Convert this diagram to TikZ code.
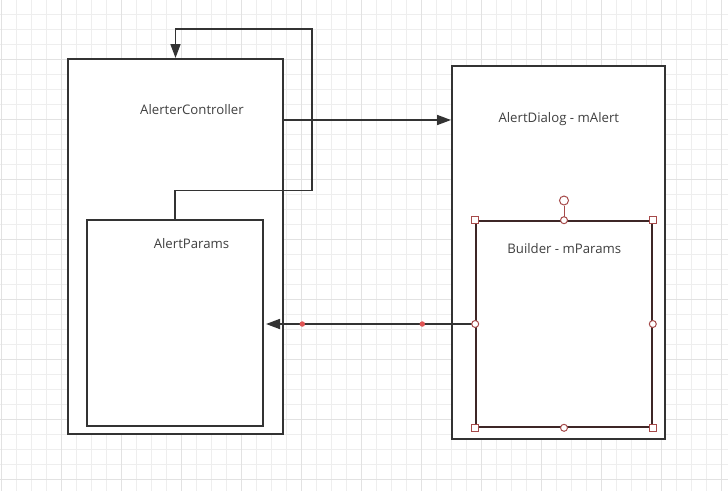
\documentclass[tikz,border=0pt]{standalone}
\usepackage{fontspec}
\setmainfont{Open Sans}
\usetikzlibrary{arrows.meta}
\definecolor{gridminor}{HTML}{EEEEEE}
\definecolor{gridmajor}{HTML}{E2E2E2}
\definecolor{ink}{HTML}{333333}
\definecolor{txt}{HTML}{404040}
\definecolor{selbox}{HTML}{3E2626}
\definecolor{handle}{HTML}{A64A4A}
\definecolor{reddot}{HTML}{E05555}
\tikzset{
  minorline/.style={draw=gridminor, line width=1pt},
  majorline/.style={draw=gridmajor, line width=1pt},
  box/.style={draw=ink, fill=white, line width=2pt, rectangle, inner sep=0pt},
  selectbox/.style={draw=selbox, fill=white, line width=1.6pt, rectangle, inner sep=0pt},
  lbl/.style={text=txt, anchor=base, inner sep=0pt, font=\fontsize{13.2}{16}\selectfont},
  conn/.style={draw=ink, line width=1.7pt, -{Triangle[length=14pt,width=10pt]}},
  sqhandle/.style={draw=handle, fill=white, line width=1pt, rectangle, minimum size=7pt, inner sep=0pt},
  cirhandle/.style={draw=handle, fill=white, line width=1pt, circle, minimum size=7pt, inner sep=0pt},
  rothandle/.style={draw=handle, fill=white, line width=1pt, circle, minimum size=9pt, inner sep=0pt},
  waypoint/.style={fill=reddot, circle, minimum size=5.5pt, inner sep=0pt},
}
\begin{document}
\begin{tikzpicture}[x=1pt,y=-1pt]
\useasboundingbox (0,0) rectangle (728,491);
\fill[white] (0,0) rectangle (728,491);
% grid
\foreach \i in {0,...,48} {\draw[minorline] ({1.7+15*\i},0) -- ({1.7+15*\i},491);}
\foreach \j in {1,...,32} {\draw[minorline] (0,{-0.7+15*\j}) -- (728,{-0.7+15*\j});}
\foreach \i in {0,...,12} {\draw[majorline] ({1.7+60*\i},0) -- ({1.7+60*\i},491);}
\foreach \j in {0,...,7} {\draw[majorline] (0,{59.3+60*\j}) -- (728,{59.3+60*\j});}

% boxes
\node[box, minimum width=215pt, minimum height=375pt] (ctrl) at (175.5,246.5) {};
\node[box, minimum width=176pt, minimum height=206pt] (params) at (175,323) {};
\node[box, minimum width=213pt, minimum height=373pt] (dlg) at (558.5,252.5) {};
\node[selectbox, minimum width=176pt, minimum height=206pt] (builder) at (564,324) {};

% labels
\node[lbl] (ctrlT) at (192,114) {AlerterController};
\node[lbl] (paramsT) at (191.5,248) {AlertParams};
\node[lbl] (dlgT) at (558.8,122.3) {AlertDialog - mAlert};
\node[lbl] (builderT) at (564.3,253.3) {Builder - mParams};

% connectors
\coordinate (r1) at (0,120);
\draw[conn] (ctrl.east |- r1) -- (dlg.west |- r1);
\coordinate (loopA) at (312,190.5);
\coordinate (loopB) at (312,29);
\draw[conn] (params.north) |- (loopA) -- (loopB) -| (ctrl.north);
\draw[conn, shorten >=2pt] (builder.west) -- (params.east |- builder.west);
\node[waypoint] (wp1) at (302.3,324) {};
\node[waypoint] (wp2) at (422.3,324) {};

% selection handles
\node[rothandle] (rot) at (564,200.5) {};
\draw[draw=handle, line width=1pt] (rot.south) -- (builder.north);
\node[sqhandle] (hnw) at (builder.north west) {};
\node[sqhandle] (hne) at (builder.north east) {};
\node[sqhandle] (hsw) at (builder.south west) {};
\node[sqhandle] (hse) at (builder.south east) {};
\node[cirhandle] (hn) at (builder.north) {};
\node[cirhandle] (hs) at (builder.south) {};
\node[cirhandle] (hw) at (builder.west) {};
\node[cirhandle] (he) at (builder.east) {};
\end{tikzpicture}
\end{document}
